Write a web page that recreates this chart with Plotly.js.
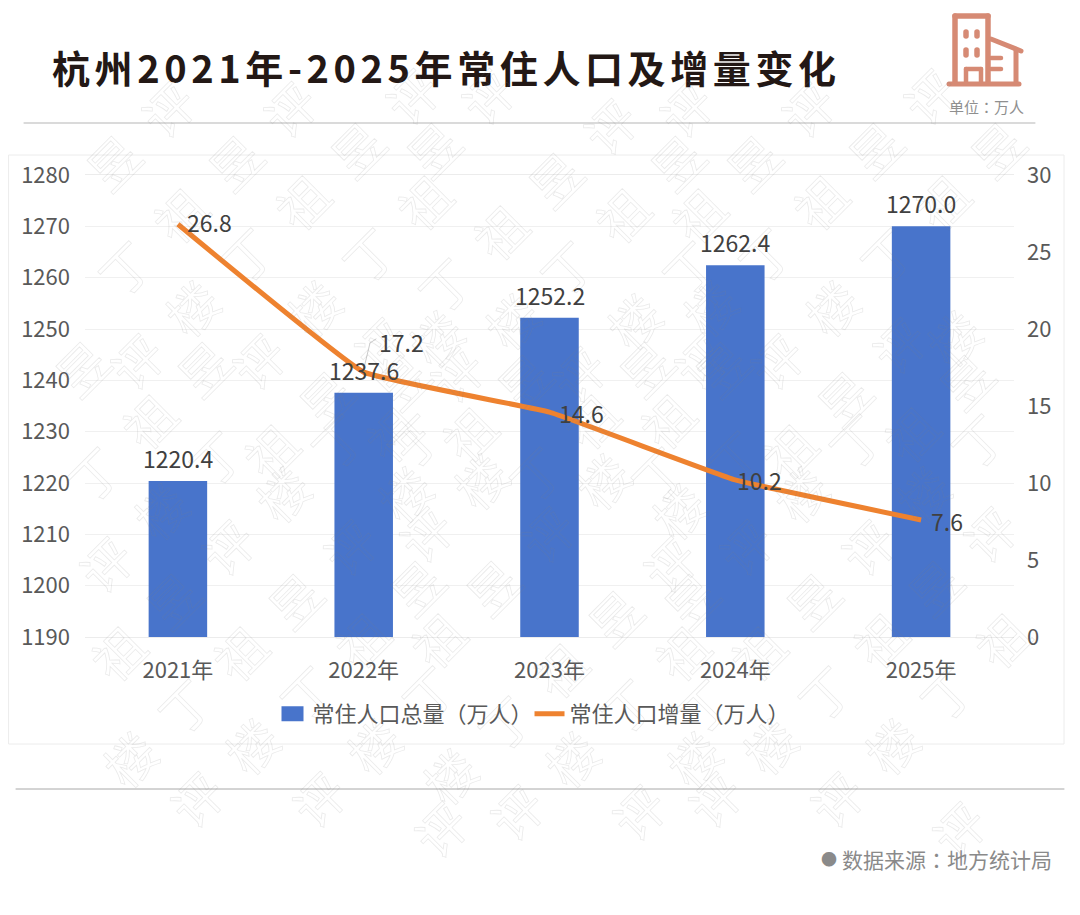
<!DOCTYPE html>
<html>
<head>
<meta charset="utf-8">
<script src="https://cdn.plot.ly/plotly-3.0.1.min.js"></script>
<style>
  html, body { margin: 0; padding: 0; background: #fff; }
  .gtitle { letter-spacing: 4.6px; }
</style>
</head>
<body>
<div id="chart" style="width:1080px;height:915px;"></div>
<script>
var years = ['2021年', '2022年', '2023年', '2024年', '2025年'];
var totalPop = [1220.4, 1237.6, 1252.2, 1262.4, 1270.0];
var popIncrease = [26.8, 17.2, 14.6, 10.2, 7.6];
var leftTicks = [1190, 1200, 1210, 1220, 1230, 1240, 1250, 1260, 1270, 1280];
var rightTicks = [0, 5, 10, 15, 20, 25, 30];

var W = 1080, H = 915;
var FONT = '"Noto Sans CJK SC", "Noto Sans", sans-serif';
var FONT_TC = '"Noto Sans CJK TC", "Noto Sans", sans-serif';  // centred full-width colon

// page pixels to paper coordinates
var M = { l: 85, r: 66, t: 175, b: 278 };
function px(x) { return (x - M.l) / (W - M.l - M.r); }
function py(y) { return 1 - (y - M.t) / (H - M.t - M.b); }

function line(x0, y0, x1, y1, color, width) {
    return { type: 'line', xref: 'paper', yref: 'paper', layer: 'below',
        x0: px(x0), y0: py(y0), x1: px(x1), y1: py(y1),
        line: { color: color, width: width } };
}

function note(x, y, text, size, color, anchor, family) {
    return { xref: 'paper', yref: 'paper', x: px(x), y: py(y), text: text, showarrow: false,
        xanchor: anchor || 'center', yanchor: 'middle',
        font: { family: family || FONT, size: size, color: color } };
}

var shapes = [
    line(24, 123, 1035, 123, '#b5b5b5', 1),
    line(16, 789, 1064, 789, '#a8a8a8', 1),
    { type: 'rect', xref: 'paper', yref: 'paper', layer: 'below',
      x0: px(9), y0: py(155), x1: px(1064), y1: py(744),
      line: { color: '#ececec', width: 1 }, fillcolor: 'rgba(0,0,0,0)' },
    // leader line of the 17.2 label
    line(364, 368, 370, 343, '#bdbdbd', 0.8),
    line(370, 343, 376, 339, '#bdbdbd', 0.8)
];

// building icon
var ICON = '#d68a74';
shapes.push(
    line(955, 16, 988, 16, ICON, 5.5),
    line(955, 16, 955, 83, ICON, 5.5),
    line(988, 16, 988, 83, ICON, 5.5),
    line(949, 84, 1019, 84, ICON, 5),
    line(991, 39, 1021, 51, ICON, 5),
    line(1016, 50, 1016, 83, ICON, 5),
    line(991, 58, 1001, 58, ICON, 4.5),
    line(991, 69, 1001, 69, ICON, 4.5),
    line(966, 69, 981, 69, ICON, 4.5),
    line(966, 69, 966, 83, ICON, 4.5),
    line(981, 69, 981, 83, ICON, 4.5),
    line(966, 32, 966, 36, ICON, 5.5),
    line(977, 32, 977, 36, ICON, 5.5),
    line(966, 50, 966, 55, ICON, 5.5),
    line(977, 50, 977, 55, ICON, 5.5)
);

var annotations = [];

// watermark: words run up and to the right, columns drift a little in height
var MARK = '丁祖昱评楼';
var columnDrift = [0, 0, 30, 13, 13];
for (var row = -12; row < 20; row++) {
    for (var col = -8; col < 12; col++) {
        var mx = col * 122 + 95 + row * 55;
        var my = 897 - row * 53 + columnDrift[((col % 5) + 5) % 5];
        if (mx < 30 || mx > 1050 || my < 30 || my > 885) continue;
        annotations.push({ xref: 'paper', yref: 'paper', showarrow: false,
            x: px(mx), y: py(my), text: MARK.charAt(((row + 2) % 5 + 5) % 5), textangle: -45,
            font: { family: FONT, size: 50, color: '#ececec' } });
    }
}
var markCount = annotations.length;

annotations.push(
    note(986, 107, '单位：万人', 15, '#8f8f8f', 'center', FONT_TC),
    note(840, 859, '数据来源：地方统计局', 21, '#8a8a8a', 'left', FONT_TC),
    note(829, 858, '●', 16, '#8a8a8a')
);

// data labels, placed from the chart's values
var LABEL = '#404040';
years.forEach(function(y, i) {
    annotations.push({ x: y, y: totalPop[i], xref: 'x', yref: 'y', text: totalPop[i].toFixed(1),
        showarrow: false, yanchor: 'bottom', yshift: 4,
        font: { family: FONT, size: 23, color: LABEL } });
});
var incShift = [[32, 2], [38, 30], [32, -1], [24, 0], [26, -1]];
years.forEach(function(y, i) {
    annotations.push({ x: y, y: popIncrease[i], xref: 'x', yref: 'y2', text: popIncrease[i].toFixed(1),
        showarrow: false, xshift: incShift[i][0], yshift: incShift[i][1],
        font: { family: FONT, size: 23, color: LABEL } });
});

var barTrace = {
    type: 'bar', name: '常住人口总量（万人）', x: years, y: totalPop, yaxis: 'y',
    width: 0.315, marker: { color: '#4874cb' }, hoverinfo: 'x+y'
};
var lineTrace = {
    type: 'scatter', mode: 'lines', name: '常住人口增量（万人）', x: years, y: popIncrease, yaxis: 'y2',
    line: { color: '#ee822f', width: 5, shape: 'spline', smoothing: 0.25 }, hoverinfo: 'x+y'
};

var layout = {
    width: W, height: H,
    margin: M,
    paper_bgcolor: '#fff', plot_bgcolor: 'rgba(0,0,0,0)',
    font: { family: FONT, size: 22, color: '#595959' },
    title: { text: '<b>杭州2021年-2025年常住人口及增量变化</b>', xref: 'container', yref: 'container',
        x: 52 / W, xanchor: 'left', y: 1 - 70 / H, yanchor: 'middle',
        font: { family: FONT, size: 38, color: '#231815' } },
    bargap: 0.685,
    showlegend: true,
    legend: { orientation: 'h', x: px(530), xanchor: 'center', y: py(714), yanchor: 'middle', itemwidth: 30,
        font: { family: FONT, size: 22, color: '#595959' }, traceorder: 'normal' },
    xaxis: { type: 'category', showgrid: false, zeroline: false, ticks: '',
        showline: true, mirror: true, linecolor: '#ececec', linewidth: 1,
        ticklabelstandoff: 14, tickfont: { family: FONT, size: 22, color: '#595959' } },
    yaxis: { range: [1190, 1280], tickvals: leftTicks, showgrid: true, gridcolor: '#f0f0f0', gridwidth: 1,
        zeroline: false, showline: false, ticks: '', ticklabelstandoff: 14,
        tickfont: { family: FONT, size: 22, color: '#595959' } },
    yaxis2: { range: [0, 30], tickvals: rightTicks, overlaying: 'y', side: 'right', showgrid: false,
        zeroline: false, showline: false, ticks: '', ticklabelstandoff: 12,
        tickfont: { family: FONT, size: 22, color: '#595959' } },
    shapes: shapes,
    annotations: annotations
};

Plotly.newPlot('chart', [barTrace, lineTrace], layout, { displayModeBar: false, staticPlot: true }).then(function() {
    // watermark letters are outlines only, thin enough to sit over the bars
    document.querySelectorAll('.annotation').forEach(function(g) {
        if (+g.getAttribute('data-index') >= markCount) return;
        var t = g.querySelector('text');
        t.style.fill = 'none';
        t.style.stroke = 'rgba(130,130,130,0.17)';
        t.style.strokeWidth = '0.8px';
    });
    document.querySelectorAll('.shapelayer path').forEach(function(p) {
        p.style.strokeLinecap = 'round';
    });
    // wider legend swatch for the bars, and a tighter gap to the second entry
    var swatch = document.querySelector('.legendbar path, .legendpoints path');
    if (swatch) swatch.setAttribute('d', 'M11,7.5H-11V-7.5H11Z');
    var first = document.querySelector('.legend .traces');
    if (first) first.setAttribute('transform', first.getAttribute('transform') + ' translate(8,0)');
});
</script>
</body>
</html>
